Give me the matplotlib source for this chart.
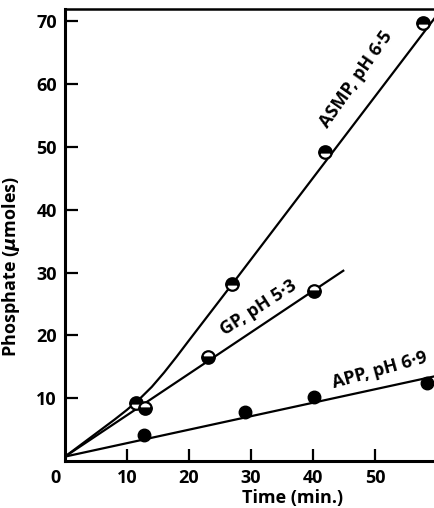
"""Phosphate released with time for three substrates"""
import matplotlib
matplotlib.use("Agg")
import matplotlib.pyplot as plt
import matplotlib.transforms as mtransforms

plt.rcParams['font.family'] = ['Open Sans', 'DejaVu Sans']
plt.rcParams['font.weight'] = 'bold'

# measured points
asmp_t = [11.5, 27.0, 42.0, 57.8]
asmp_p = [9.2, 28.2, 49.2, 69.8]
gp_t = [12.9, 23.0, 40.2]
gp_p = [8.4, 16.5, 27.1]
app_t = [12.7, 29.0, 40.1, 58.4]
app_p = [4.1, 7.8, 10.2, 12.5]

# drawn lines
asmp_line_t = [0, 4, 8, 10, 12, 14, 16, 18, 20, 27, 59.7]
asmp_line_p = [0.7, 3.65, 6.6, 8.15, 9.85, 11.8, 14.1, 16.6, 19.2, 28.2, 70.6]
gp_line_t = [0, 44.9]
gp_line_p = [0.7, 30.3]
app_line_t = [0, 59.7]
app_line_p = [0.7, 13.5]

x_ticks = [10, 20, 30, 40, 50]
y_ticks = [10, 20, 30, 40, 50, 60, 70]

fig = plt.figure(figsize=(4.35, 5.08), dpi=100)
ax = fig.add_axes([0.1494, 0.0925, 0.8506, 0.8888])

lw = 1.6
ax.plot(asmp_line_t, asmp_line_p, color='black', lw=lw, zorder=2)
ax.plot(gp_line_t, gp_line_p, color='black', lw=lw, zorder=2)
ax.plot(app_line_t, app_line_p, color='black', lw=lw, zorder=2)

ms = 9
ax.plot(asmp_t, asmp_p, 'o', ls='none', ms=ms, mec='black', mfc='black',
        mfcalt='white', fillstyle='top', mew=1.6, zorder=3)
ax.plot(gp_t, gp_p, 'o', ls='none', ms=ms, mec='black', mfc='black',
        mfcalt='white', fillstyle='bottom', mew=1.6, zorder=3)
ax.plot(app_t, app_p, 'o', ls='none', ms=ms, mec='black', mfc='black',
        mew=1.0, zorder=3)

# curve labels
tkw = dict(ha='center', va='center', rotation_mode='anchor', fontsize=13,
           fontweight='bold')
ax.text(47.0, 60.7, 'ASMP, pH 6\u00b75', rotation=55, **tkw)
ax.text(31.2, 24.4, 'GP, pH 5\u00b73', rotation=33, **tkw)
ax.text(50.7, 14.5, 'APP, pH 6\u00b79', rotation=15.5, **tkw)

ax.set_xlim(0, 59.7)
ax.set_ylim(0, 71.9)
ax.set_xticks([0] + x_ticks)
ax.set_xticklabels(['0'] + [str(v) for v in x_ticks])
ax.set_yticks(y_ticks)

ax.tick_params(direction='in', length=9, width=1.6, labelsize=13, pad=6)
ax.tick_params(axis='x', pad=6)
for lab in ax.get_xticklabels() + ax.get_yticklabels():
    lab.set_fontweight('bold')
# origin label sits a little to the left, tick at 0 hidden
ax.xaxis.get_major_ticks()[0].tick1line.set_visible(False)
ax.get_xticklabels()[0].set_transform(
    ax.get_xticklabels()[0].get_transform()
    + mtransforms.ScaledTranslation(-9 / 100, 0, fig.dpi_scale_trans))

ax.spines['right'].set_visible(False)
ax.spines['left'].set_linewidth(2.2)
ax.spines['bottom'].set_linewidth(2.2)
ax.spines['top'].set_linewidth(1.8)

ax.set_xlabel('Time (min.)', fontsize=13, fontweight='bold')
ax.set_ylabel('Phosphate ($\\mu$moles)', fontsize=13, fontweight='bold')
ax.xaxis.set_label_coords(0.614, -0.063)
ax.yaxis.set_label_coords(-0.115, 0.43)

fig.savefig('out.png', dpi=100)
